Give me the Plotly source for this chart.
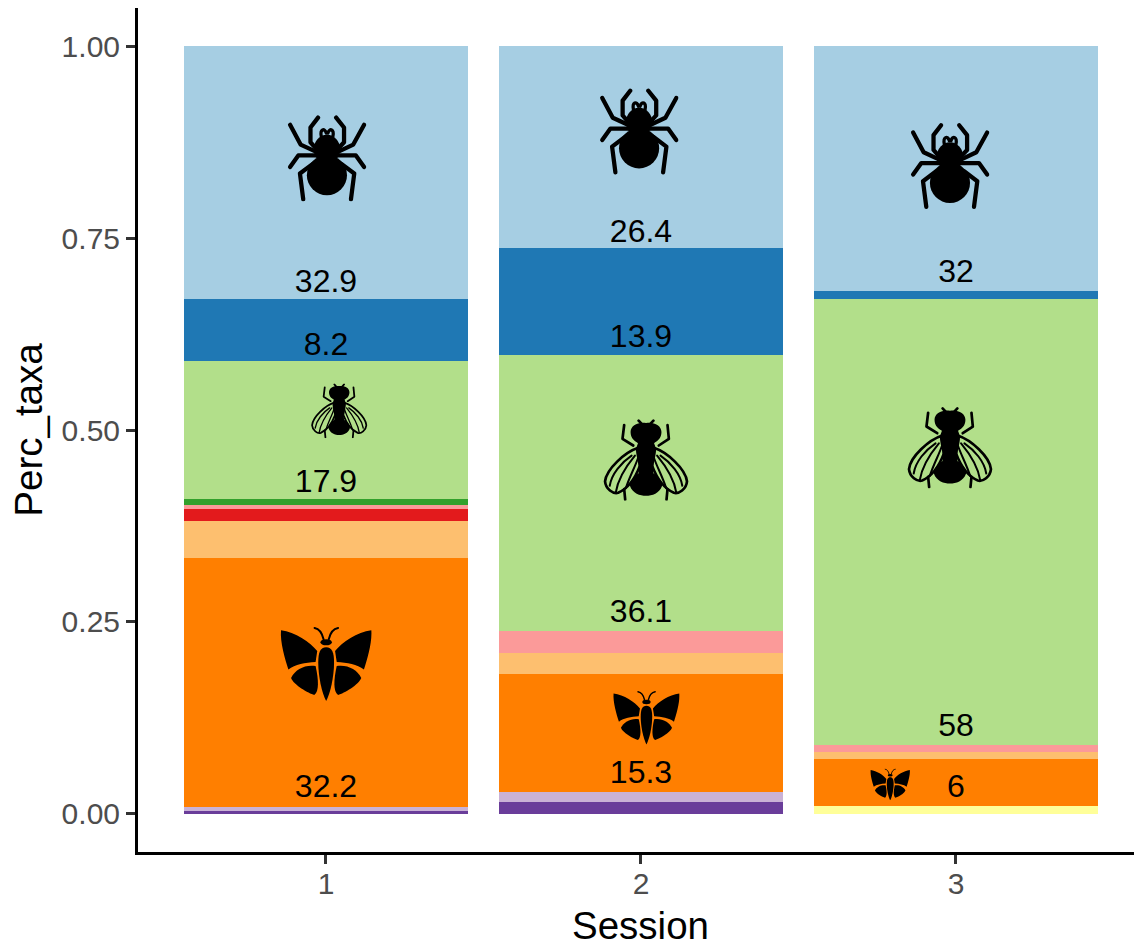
import base64
import plotly.graph_objects as go

# ---------- data ----------
sessions = [1, 2, 3]
yellow = [0.0, 0.0, 0.0105]
dark_purple = [0.003, 0.015, 0.0]
light_purple = [0.0055, 0.013, 0.0]
orange = [0.3245, 0.1535, 0.0604]
light_orange = [0.048, 0.0275, 0.0091]
red = [0.0165, 0.0, 0.0]
pink = [0.0049, 0.0285, 0.0095]
green = [0.0076, 0.0, 0.0]
light_green = [0.180, 0.3605, 0.5815]
blue = [0.081, 0.139, 0.0100]
light_blue = [0.329, 0.263, 0.319]

label_x = [1, 1, 1, 1, 2, 2, 2, 2, 3, 3, 3]
label_y = [0.690, 0.608, 0.430, 0.032, 0.755, 0.619, 0.260, 0.051, 0.703, 0.112, 0.032]
label_text = ["32.9", "8.2", "17.9", "32.2", "26.4", "13.9", "36.1", "15.3", "32", "58", "6"]

y_ticks = [0, 0.25, 0.5, 0.75, 1.0]

series = [
    ("yellow", yellow, "#ffff99"), ("dark purple", dark_purple, "#6a3d9a"),
    ("light purple", light_purple, "#cab2d6"), ("orange", orange, "#ff7f00"),
    ("light orange", light_orange, "#fdbf6f"), ("red", red, "#e31a1c"),
    ("pink", pink, "#fb9a99"), ("green", green, "#33a02c"),
    ("light green", light_green, "#b2df8a"), ("blue", blue, "#1f78b4"),
    ("light blue", light_blue, "#a6cee3"),
]

# ---------- icons ----------
SPIDER = """<svg xmlns="http://www.w3.org/2000/svg" viewBox="52 42 240 264"><g fill="none" stroke="#000" stroke-width="13" stroke-linecap="round" stroke-linejoin="round">
<path d="M145,50 L122,80 L122,125 L135,140"/><path d="M200,50 L224,80 L224,125 L210,140"/>
<path d="M60,72 L92,132 L135,152"/><path d="M285,72 L252,132 L210,152"/>
<path d="M60,200 L85,165 L140,165"/><path d="M285,200 L260,165 L205,165"/>
<path d="M100,298 L90,220 L130,190"/><path d="M245,298 L255,220 L215,190"/>
<path stroke-width="10" d="M155,108 C150,85 165,80 170,97"/><path stroke-width="10" d="M190,108 C195,85 180,80 175,97"/></g>
<circle cx="172" cy="225" r="61"/><ellipse cx="172" cy="146" rx="40" ry="44"/></svg>"""

FLY = """<svg xmlns="http://www.w3.org/2000/svg" viewBox="40 26 256 244"><g fill="none" stroke="#000" stroke-width="8" stroke-linecap="round" stroke-linejoin="round">
<path d="M103,44 L98,85 L130,105"/><path d="M232,44 L236,85 L206,105"/>
<path d="M103,235 L106,266"/><path d="M232,235 L229,266"/>
<path d="M146,31 L160,46"/><path d="M190,31 L176,46"/>
<path d="M145,112 C105,125 50,175 46,212 C48,235 70,250 85,246 C110,235 135,205 150,165 Z"/>
<path d="M191,112 C231,125 286,175 290,212 C288,235 266,250 251,246 C226,235 201,205 186,165 Z"/>
<path stroke-width="6" d="M125,135 C95,155 65,190 60,225"/><path stroke-width="6" d="M135,135 C110,165 85,200 78,245"/><path stroke-width="6" d="M145,140 C135,170 120,195 108,232"/>
<path stroke-width="6" d="M211,135 C241,155 271,190 276,225"/><path stroke-width="6" d="M201,135 C226,165 251,200 258,245"/><path stroke-width="6" d="M191,140 C201,170 216,195 228,232"/></g>
<path d="M168,38 C145,34 122,45 122,65 C122,85 135,92 144,98 L138,115 C138,140 150,165 146,188 C130,198 118,215 120,225 C128,248 150,255 168,255 C186,255 208,248 216,225 C218,215 206,198 190,188 C186,165 198,140 198,115 L192,98 C201,92 214,85 214,65 C214,45 191,34 168,38 Z"/></svg>"""

BUTTERFLY = """<svg xmlns="http://www.w3.org/2000/svg" viewBox="35 24 274 220"><g fill="none" stroke="#000" stroke-width="6" stroke-linecap="round">
<path d="M165,62 C160,40 150,30 138,28"/><path d="M180,62 C185,40 195,30 208,28"/></g>
<ellipse cx="172.5" cy="70" rx="17" ry="9"/>
<path d="M38,35 C80,40 125,70 146,96 L141,128 C110,130 80,135 60,150 C50,120 35,70 38,35 Z"/>
<path d="M307,35 C265,40 220,70 199,96 L204,128 C235,130 265,135 285,150 C295,120 310,70 307,35 Z"/>
<path d="M141,140 C110,135 80,150 68,175 C75,195 120,220 137,225 C152,215 150,180 141,140 Z"/>
<path d="M204,140 C235,135 265,150 277,175 C270,195 225,220 208,225 C193,215 195,180 204,140 Z"/>
<path d="M172.5,85 C155,85 149,100 149,130 C149,170 160,220 172.5,243 C185,220 196,170 196,130 C196,100 190,85 172.5,85 Z"/></svg>"""

def uri(svg):
    return "data:image/svg+xml;base64," + base64.b64encode(svg.encode()).decode()

PX_X, PX_Y = 315.0, 768.5
# icon, centre x, centre y, width px, height px
icons = [
    (SPIDER, 1.003, 0.854, 79, 87), (SPIDER, 1.994, 0.889, 79, 87), (SPIDER, 2.981, 0.844, 79, 87),
    (FLY, 1.042, 0.525, 57, 55), (FLY, 2.016, 0.461, 86, 82), (FLY, 2.981, 0.477, 86, 82),
    (BUTTERFLY, 1.000, 0.195, 92, 75), (BUTTERFLY, 2.017, 0.125, 67, 54), (BUTTERFLY, 2.791, 0.038, 40, 32),
]

fig = go.Figure()
for name, vals, col in series:
    fig.add_trace(go.Bar(x=sessions, y=vals, name=name, marker=dict(color=col, line=dict(width=0)), width=0.9))

fig.add_trace(go.Scatter(x=label_x, y=label_y, text=label_text, mode="text",
                         textposition="middle center",
                         textfont=dict(family="Liberation Sans", size=32, color="#000")))

images = [dict(source=uri(s), xref="x", yref="y", x=x, y=y, sizex=w / PX_X, sizey=h / PX_Y,
               xanchor="center", yanchor="middle", sizing="stretch", layer="above")
          for s, x, y, w, h in icons]

axis_common = dict(showline=True, linecolor="#000", linewidth=3, showgrid=False, zeroline=False,
                   ticks="outside", ticklen=9, tickwidth=3, tickcolor="#333333",
                   tickfont=dict(family="Liberation Sans", size=30, color="#4d4d4d"),
                   title_font=dict(family="Liberation Sans", size=38.5, color="#000"))

fig.update_layout(
    width=1134, height=947, barmode="stack", showlegend=False,
    paper_bgcolor="#fff", plot_bgcolor="#fff",
    margin=dict(l=138, r=0, t=8, b=94.5, autoexpand=False),
    images=images,
    xaxis=dict(range=[0.4032, 3.5652], tickvals=sessions, ticklabelstandoff=-6, **axis_common),
    yaxis=dict(range=[-0.05, 1.05], tickvals=y_ticks, tickformat=".2f", title=dict(text="Perc_taxa", standoff=8), **axis_common),
    annotations=[dict(text="Session", xref="x", yref="paper", x=2, y=-0.0875, xanchor="center", yanchor="middle",
                      showarrow=False, font=dict(family="Liberation Sans", size=38.5, color="#000"))],
)

fig.write_html("out.html", config=dict(displayModeBar=False),
               post_script="document.body.style.margin='0';document.body.style.overflow='hidden';")
